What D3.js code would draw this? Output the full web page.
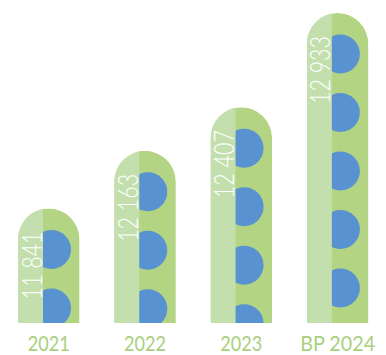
<!DOCTYPE html>
<html><head><meta charset="utf-8">
<script src="https://cdn.jsdelivr.net/npm/d3@7"></script>
<style>html,body{margin:0;padding:0;background:#fff;}svg{display:block;}</style>
</head><body>
<svg id="chart" width="386" height="355"></svg>
<script>
const categories = ["2021", "2022", "2023", "BP 2024"];
const values = [11841, 12163, 12407, 12933];

const W = 386, H = 355;
const baseY = 323;
const svg = d3.select("#chart");

const x = d3.scaleBand().domain(categories).range([18, 368.4]).paddingInner(0.361).paddingOuter(0);
const y = d3.scaleLinear().domain([11201, 12933]).range([baseY, 13]);

const locale = d3.formatLocale({decimal: ",", thousands: " ", grouping: [3], currency: ["", ""]});
const fmt = locale.format(",d");

const colLight = "#c3dfad", colDark = "#b2d483", colBlue = "#5892d0", colLabel = "#a9d07e";
const bw = x.bandwidth(), rad = bw / 2, splitOff = 25;
const cr = 19.5, cOff = 8.5, cStart = 41, cStep = 58.5;

const data = categories.map((c, i) => ({cat: c, val: values[i], i}));

function capsule(d) {
  const x0 = x(d.cat), x1 = x0 + bw, top = y(d.val);
  return `M${x0},${baseY} L${x0},${top + rad} A${rad},${rad} 0 0 1 ${x1},${top + rad} L${x1},${baseY} Z`;
}

const defs = svg.append("defs");
data.forEach(d => {
  defs.append("clipPath").attr("id", "clip" + d.i).append("path").attr("d", capsule(d));
});

const g = svg.selectAll("g.bar").data(data).join("g").attr("class", "bar");
const inner = g.append("g").attr("clip-path", d => `url(#clip${d.i})`);
inner.append("path").attr("d", capsule).attr("fill", colDark);
inner.each(function(d) {
  const top = y(d.val);
  const cx = x(d.cat) + splitOff + cOff;
  const cys = [];
  for (let cy = top + cStart; cy - cr < baseY; cy += cStep) cys.push(cy);
  d3.select(this).selectAll("circle").data(cys).join("circle")
    .attr("cx", cx).attr("cy", c => c).attr("r", cr).attr("fill", colBlue);
});
inner.append("rect")
  .attr("x", d => x(d.cat)).attr("y", d => y(d.val))
  .attr("width", splitOff).attr("height", d => baseY - y(d.val))
  .attr("fill", colLight);

g.append("text")
  .attr("transform", d => `translate(${x(d.cat) + 23.5},${y(d.val) + 23}) rotate(-90)`)
  .attr("text-anchor", "end")
  .attr("font-family", "Lato, 'Open Sans', sans-serif")
  .attr("font-weight", 300)
  .attr("font-size", 27)
  .attr("fill", "#fff")
  .attr("textLength", 68).attr("lengthAdjust", "spacingAndGlyphs")
  .text(d => fmt(d.val));

g.append("text")
  .attr("x", d => x(d.cat) + bw / 2)
  .attr("y", 351)
  .attr("text-anchor", "middle")
  .attr("font-family", "Lato, 'Open Sans', sans-serif")
  .attr("font-size", 21)
  .attr("fill", colLabel)
  .attr("textLength", d => d.cat.length > 4 ? 75 : 42)
  .attr("lengthAdjust", "spacingAndGlyphs")
  .text(d => d.cat);
</script>
</body></html>
